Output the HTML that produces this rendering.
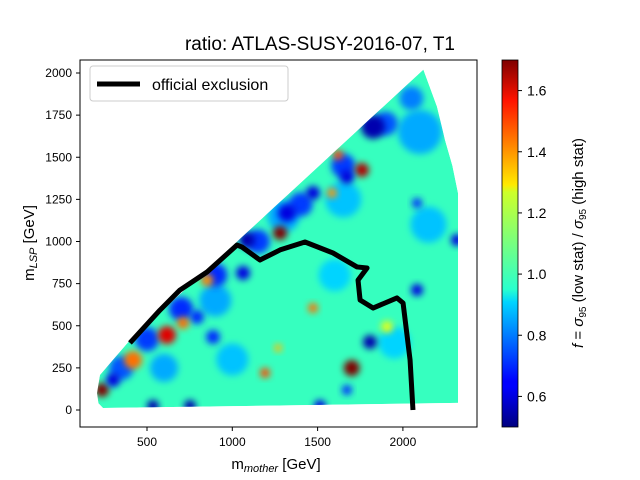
<!DOCTYPE html>
<html><head><meta charset="utf-8"><style>
body{margin:0;background:#fff;}
svg{display:block;font-family:"Liberation Sans","DejaVu Sans",sans-serif;}
</style></head><body>
<svg id="c" width="640" height="480" viewBox="0 0 640 480">
<defs>
<clipPath id="reg"><polygon id="regpoly"/></clipPath>
<linearGradient id="jet" x1="0" y1="1" x2="0" y2="0">
<stop offset="0" stop-color="#00007f"/><stop offset="0.11" stop-color="#0000ff"/>
<stop offset="0.125" stop-color="#0000ff"/><stop offset="0.34" stop-color="#00d4ff"/>
<stop offset="0.375" stop-color="#29ffce"/><stop offset="0.64" stop-color="#ceff29"/>
<stop offset="0.66" stop-color="#ffea00"/><stop offset="0.89" stop-color="#ff1300"/>
<stop offset="1" stop-color="#7f0000"/></linearGradient>
<filter id="bl" x="-50%" y="-50%" width="200%" height="200%"><feGaussianBlur stdDeviation="3.5"/></filter>
</defs>
<text x="320" y="50" font-size="19" text-anchor="middle">ratio:  ATLAS-SUSY-2016-07,  T1</text>
<g id="heat" clip-path="url(#reg)"></g>
<path id="excl" fill="none" stroke="#000" stroke-width="5" stroke-linejoin="round"/>
<rect x="80" y="60" width="397" height="367" fill="none" stroke="#000" stroke-width="1"/>
<g id="ticks" font-size="12"></g>
<text x="276" y="469" font-size="15" text-anchor="middle">m<tspan font-style="italic" font-size="11" dy="3">mother</tspan><tspan dy="-3"> [GeV]</tspan></text>
<text transform="translate(34,243) rotate(-90)" font-size="15" text-anchor="middle">m<tspan font-style="italic" font-size="11" dy="3">LSP</tspan><tspan dy="-3"> [GeV]</tspan></text>
<g>
<rect x="90" y="66" width="198" height="35" rx="3" fill="#fff" stroke="#ccc"/>
<line x1="97" y1="84" x2="140" y2="84" stroke="#000" stroke-width="5"/>
<text x="152" y="90" font-size="16">official exclusion</text>
</g>
<rect x="502" y="60" width="16" height="367" fill="url(#jet)" stroke="#000" stroke-width="0.8"/>
<g id="cticks" font-size="14"></g>
<text transform="translate(583,243) rotate(-90)" font-size="15" text-anchor="middle"><tspan font-style="italic">f</tspan> = <tspan font-style="italic">σ</tspan><tspan font-size="10" dy="3">95</tspan><tspan dy="-3"> (low stat) / </tspan><tspan font-style="italic">σ</tspan><tspan font-size="10" dy="3">95</tspan><tspan dy="-3"> (high stat)</tspan></text>
</svg>
<script>
const xTicks=[500,1000,1500,2000];
const yTicks=[0,250,500,750,1000,1250,1500,1750,2000];
const cTicks=[0.6,0.8,1.0,1.2,1.4,1.6];
const cTickLabels=["0.6","0.8","1.0","1.2","1.4","1.6"];
const regionX=[224,207,215,242,2323,2323,2290,2247,2200,2120,1028,400];
const regionY=[208,100,40,12,42,1288,1450,1602,1800,2020,1000,415];
const baseValue=1.0;
const exclX=[400,576,693,852,1028,1057,1162,1280,1426,1590,1731,1790,1737,1749,1825,1965,2001,2042,2059];
const exclY=[398,593,712,819,979,967,890,950,997,932,849,843,771,653,605,665,635,297,0];
const blobX=[2100,1650,1300,900,1000,600,1600,2150,1950,500,700,900,1150,1400,1650,1900,2050,350,1280,1760,1620,1584,1700,1192,1473,1268,617,711,418,236,852,1907,1825,1807,1086,1063,1320,1473,1672,2317,2083,2083,535,752,1514,1672,301,793,887];
const blobY=[1650,1250,1150,650,300,250,800,1100,400,420,600,800,1000,1220,1450,1700,1850,250,1050,1424,1513,1288,249,220,605,368,445,516,297,119,771,493,1680,403,1009,813,1169,1288,1383,1009,712,1228,24,24,24,119,178,552,433];
const blobV=[0.85,0.88,0.85,0.85,0.88,0.85,0.9,0.88,0.9,0.72,0.7,0.7,0.72,0.72,0.72,0.75,0.8,0.75,1.7,1.65,1.5,1.4,1.7,1.5,1.45,1.35,1.6,1.45,1.45,1.7,1.4,1.25,0.55,0.55,0.55,0.6,0.6,0.6,0.6,0.6,0.6,0.7,0.55,0.55,0.6,0.7,0.6,0.7,0.7];
const blobR=[22,18,16,16,16,14,16,18,16,12,12,12,12,12,12,12,12,12,7,7,5,5,8,5,5,4,9,6,9,7,6,6,12,7,8,7,9,7,7,6,6,5,6,6,6,5,7,7,7];
const X=v=>147+(v-500)*0.1706, Y=v=>410-v*0.1685;
const cY=v=>427-(v-0.5)/1.2*367;
function jet(t){t=Math.max(0,Math.min(1,(t-0.5)/1.2));
 const f=(p)=>{for(let i=1;i<p.length;i++)if(t<=p[i][0]){const a=p[i-1],b=p[i];return a[1]+(b[1]-a[1])*(t-a[0])/(b[0]-a[0]);}return p[p.length-1][1];};
 const r=f([[0,0],[0.35,0],[0.66,1],[0.89,1],[1,0.5]]),g=f([[0,0],[0.125,0],[0.375,1],[0.64,1],[0.91,0],[1,0]]),b=f([[0,0.5],[0.11,1],[0.34,1],[0.65,0],[1,0]]);
 return `rgb(${r*255|0},${g*255|0},${b*255|0})`;}
const NS="http://www.w3.org/2000/svg";
const pts=regionX.map((x,i)=>X(x)+','+Y(regionY[i])).join(' ');
document.getElementById('regpoly').setAttribute('points',pts);
const heat=document.getElementById('heat');
const bg=document.createElementNS(NS,'polygon');
bg.setAttribute('points',pts);
bg.setAttribute('fill',jet(baseValue));


heat.appendChild(bg);
const order=blobX.map((_,i)=>i).sort((a,b)=>blobR[b]-blobR[a]);
order.forEach(i=>{const c=document.createElementNS(NS,'circle');
 c.setAttribute('cx',X(blobX[i]));c.setAttribute('cy',Y(blobY[i]));c.setAttribute('r',blobR[i]);
 c.setAttribute('fill',jet(blobV[i]));c.setAttribute('filter','url(#bl)');
 
 
 heat.appendChild(c);});
document.getElementById('excl').setAttribute('d',exclX.map((x,i)=>(i?'L':'M')+X(x)+' '+Y(exclY[i])).join(''));
const tk=document.getElementById('ticks');
xTicks.forEach(v=>{const l=document.createElementNS(NS,'line');l.setAttribute('x1',X(v));l.setAttribute('x2',X(v));l.setAttribute('y1',427);l.setAttribute('y2',431);l.setAttribute('stroke','#000');
 
 tk.appendChild(l);
 const t=document.createElementNS(NS,'text');t.setAttribute('x',X(v));t.setAttribute('y',446);t.setAttribute('text-anchor','middle');t.textContent=v;
 
 tk.appendChild(t);});
yTicks.forEach(v=>{const l=document.createElementNS(NS,'line');l.setAttribute('x1',76);l.setAttribute('x2',80);l.setAttribute('y1',Y(v));l.setAttribute('y2',Y(v));l.setAttribute('stroke','#000');
 
 tk.appendChild(l);
 const t=document.createElementNS(NS,'text');t.setAttribute('x',72);t.setAttribute('y',Y(v)+4);t.setAttribute('text-anchor','end');t.textContent=v;
 
 tk.appendChild(t);});
const ct=document.getElementById('cticks');
cTicks.forEach((v,i)=>{const l=document.createElementNS(NS,'line');l.setAttribute('x1',518);l.setAttribute('x2',522);l.setAttribute('y1',cY(v));l.setAttribute('y2',cY(v));l.setAttribute('stroke','#000');
 
 ct.appendChild(l);
 const t=document.createElementNS(NS,'text');t.setAttribute('x',527);t.setAttribute('y',cY(v)+5);t.textContent=cTickLabels[i];
 
 ct.appendChild(t);});
</script>
</body></html>
